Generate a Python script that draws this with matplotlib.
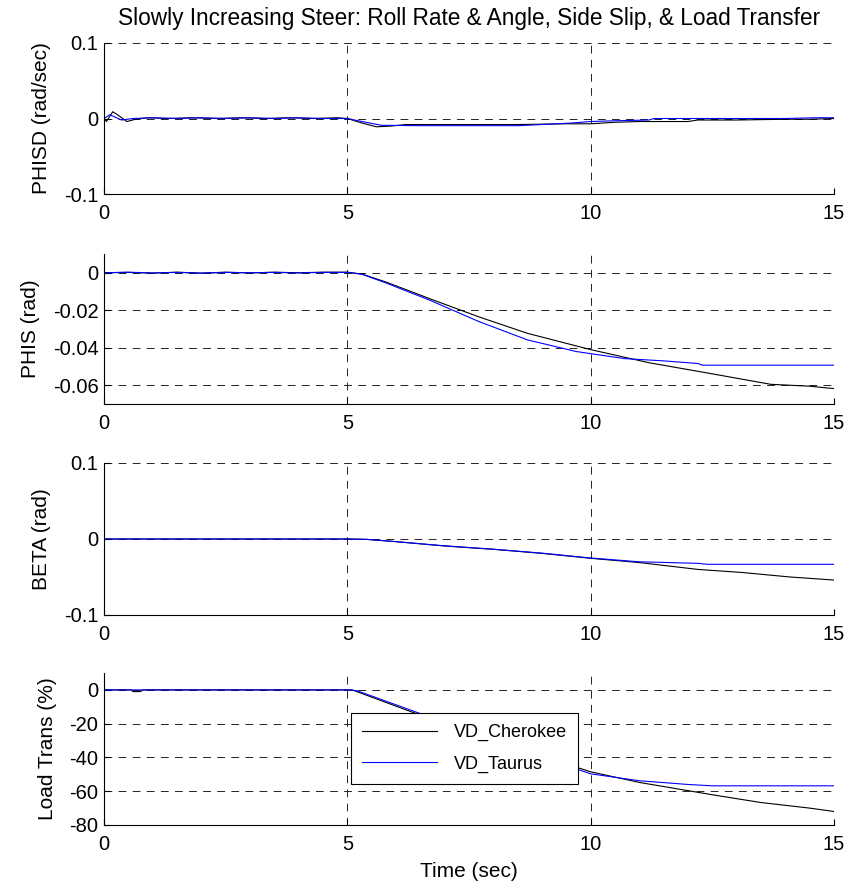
import matplotlib
matplotlib.use("Agg")
import matplotlib.pyplot as plt

plt.rcParams["font.family"] = ["Liberation Sans", "DejaVu Sans"]
plt.rcParams["font.size"] = 13

# dados (tempo em seg)

# PHISD (rad/sec)
t_phisd_ch = [0, 0.05, 0.18, 0.3, 0.47, 0.65, 0.9, 1.3, 1.8, 2.3, 2.8, 3.3, 3.8, 4.3, 4.8, 5.0,
              5.3, 5.6, 5.9, 6.2, 7.0, 8.5, 9.5, 10.0, 10.5, 11.0, 12.0, 12.2, 13.0, 14.0, 14.5, 15.0]
phisd_ch = [0, -0.004, 0.009, 0.004, -0.004, -0.001, 0.001, 0.0, 0.001, 0.0, 0.001, 0.0, 0.001, 0.0, 0.001, 0.0,
            -0.006, -0.011, -0.010, -0.008, -0.008, -0.008, -0.007, -0.007, -0.005, -0.004, -0.004, -0.002,
            -0.002, -0.001, -0.001, 0.0]
t_phisd_ta = [0, 0.12, 0.36, 0.6, 1.0, 1.5, 2.0, 2.5, 3.0, 3.5, 4.0, 4.5, 5.0, 5.3, 5.7, 6.5, 8.5,
              9.0, 9.6, 10.0, 10.5, 11.2, 11.3, 12.5, 14.0, 14.6, 15.0]
phisd_ta = [0, 0.005, -0.002, 0.0, 0.001, 0.0, 0.001, 0.0, 0.001, 0.0, 0.001, 0.0, 0.0, -0.004, -0.009,
            -0.0095, -0.0095, -0.008, -0.006, -0.004, -0.003, -0.002, 0.0, 0.0, 0.0, 0.001, 0.001]

# PHIS (rad)
t_phis_ch = [0, 0.5, 1.0, 1.5, 2.0, 2.5, 3.0, 3.5, 4.0, 4.5, 5.0, 5.3, 5.8, 6.7, 7.7, 8.7, 10.0,
             11.2, 12.3, 13.7, 14.5, 15.0]
phis_ch = [0, 0.0002, -0.0002, 0.0003, -0.0002, 0.0003, -0.0001, 0.0003, 0.0, 0.0003, 0.0003, -0.0007,
           -0.005, -0.0139, -0.0235, -0.0323, -0.041, -0.048, -0.053, -0.0595, -0.0605, -0.0618]
t_phis_ta = [0, 0.5, 1.0, 1.5, 2.0, 2.5, 3.0, 3.5, 4.0, 4.5, 5.0, 5.3, 5.8, 6.7, 7.7, 8.7, 9.7,
             10.7, 11.5, 12.2, 12.3, 15.0]
phis_ta = [0, 0.0003, -0.0001, 0.0002, -0.0002, 0.0002, 0.0, 0.0002, -0.0001, 0.0002, 0.0002, -0.0008,
           -0.0055, -0.0147, -0.026, -0.0358, -0.042, -0.0458, -0.047, -0.0484, -0.0493, -0.0493]

# BETA (rad)
t_beta_ch = [0, 5.0, 5.4, 6.0, 7.0, 8.0, 9.0, 10.0, 11.0, 12.2, 13.1, 14.1, 15.0]
beta_ch = [0, 0, -0.0005, -0.0035, -0.0092, -0.0136, -0.0189, -0.0254, -0.031, -0.040, -0.044, -0.050, -0.054]
t_beta_ta = [0, 5.0, 5.4, 6.0, 7.0, 8.0, 9.0, 10.0, 11.0, 12.2, 12.4, 15.0]
beta_ta = [0, 0, -0.0005, -0.0035, -0.009, -0.0134, -0.0186, -0.025, -0.030, -0.032, -0.0333, -0.0333]

# Load Trans (%)
t_load_ch = [0, 0.55, 0.6, 0.75, 0.8, 5.0, 5.1, 6.4, 8.0, 10.0, 11.0, 12.5, 13.5, 14.5, 15.0]
load_ch = [0, 0, -1.0, -1.0, 0, 0, 0, -13.9, -30, -48.5, -54.8, -62.1, -66.7, -70, -72]
t_load_ta = [0, 5.0, 5.2, 6.4, 8.0, 10.0, 11.0, 12.0, 12.5, 15.0]
load_ta = [0, 0, -0.5, -13.0, -30, -49.7, -53.8, -56, -56.8, -56.8]

paineis = [
    ("PHISD (rad/sec)", t_phisd_ch, phisd_ch, t_phisd_ta, phisd_ta, (-0.1, 0.1), [-0.1, 0, 0.1], ["-0.1", "0", "0.1"]),
    ("PHIS (rad)", t_phis_ch, phis_ch, t_phis_ta, phis_ta, (-0.07, 0.01), [-0.06, -0.04, -0.02, 0],
     ["-0.06", "-0.04", "-0.02", "0"]),
    ("BETA (rad)", t_beta_ch, beta_ch, t_beta_ta, beta_ta, (-0.1, 0.1), [-0.1, 0, 0.1], ["-0.1", "0", "0.1"]),
    ("Load Trans (%)", t_load_ch, load_ch, t_load_ta, load_ta, (-80, 10), [-80, -60, -40, -20, 0],
     ["-80", "-60", "-40", "-20", "0"]),
]

W, H = 851, 886
fig = plt.figure(figsize=(W / 100, H / 100), dpi=100)

# posicoes em pixels (topo, base) de cada painel
limites = [(43, 194), (254, 404), (463, 615), (673, 825)]
esq, dir_ = 104, 834

eixos = []
for (topo, base), (ylab, tc, yc, tt, yt, ylim, yticks, ylabels) in zip(limites, paineis):
    ax = fig.add_axes([esq / W, 1 - base / H, (dir_ - esq) / W, (base - topo) / H])
    ax.plot(tc, yc, color="black", lw=0.8, label="VD_Cherokee")
    ax.plot(tt, yt, color="blue", lw=0.8, label="VD_Taurus")
    ax.set_xlim(0, 15)
    ax.set_ylim(*ylim)
    ax.set_xticks([0, 5, 10, 15])
    ax.set_xticklabels(["0", "5", "10", "15"])
    ax.set_yticks(yticks)
    ax.set_yticklabels(ylabels)
    ax.grid(True, color="#222222", linestyle=(0, (8, 6.5)), linewidth=0.7)
    ax.spines["top"].set_visible(False)
    ax.spines["right"].set_visible(False)
    ax.spines["left"].set_linewidth(0.8)
    ax.spines["bottom"].set_linewidth(0.8)
    ax.tick_params(axis="both", direction="in", length=4, width=0.8, labelsize=14.5)
    ax.tick_params(axis="x", pad=7)
    ax.tick_params(axis="y", pad=4)
    ax.set_ylabel(ylab, labelpad=9, fontsize=15)
    eixos.append(ax)

eixos[0].set_title("Slowly Increasing Steer: Roll Rate & Angle, Side Slip, & Load Transfer",
                   pad=13, fontsize=16.3)
eixos[3].set_xlabel("Time (sec)", labelpad=6, fontsize=15)

leg = eixos[3].legend(loc="upper left", bbox_to_anchor=(0.338, 0.735), fancybox=False,
                      edgecolor="black", framealpha=1, handlelength=4.2, handletextpad=0.9,
                      borderpad=0.6, labelspacing=0.8, borderaxespad=0, fontsize=13)
leg.get_frame().set_linewidth(0.8)

fig.savefig("out.png", dpi=100)
